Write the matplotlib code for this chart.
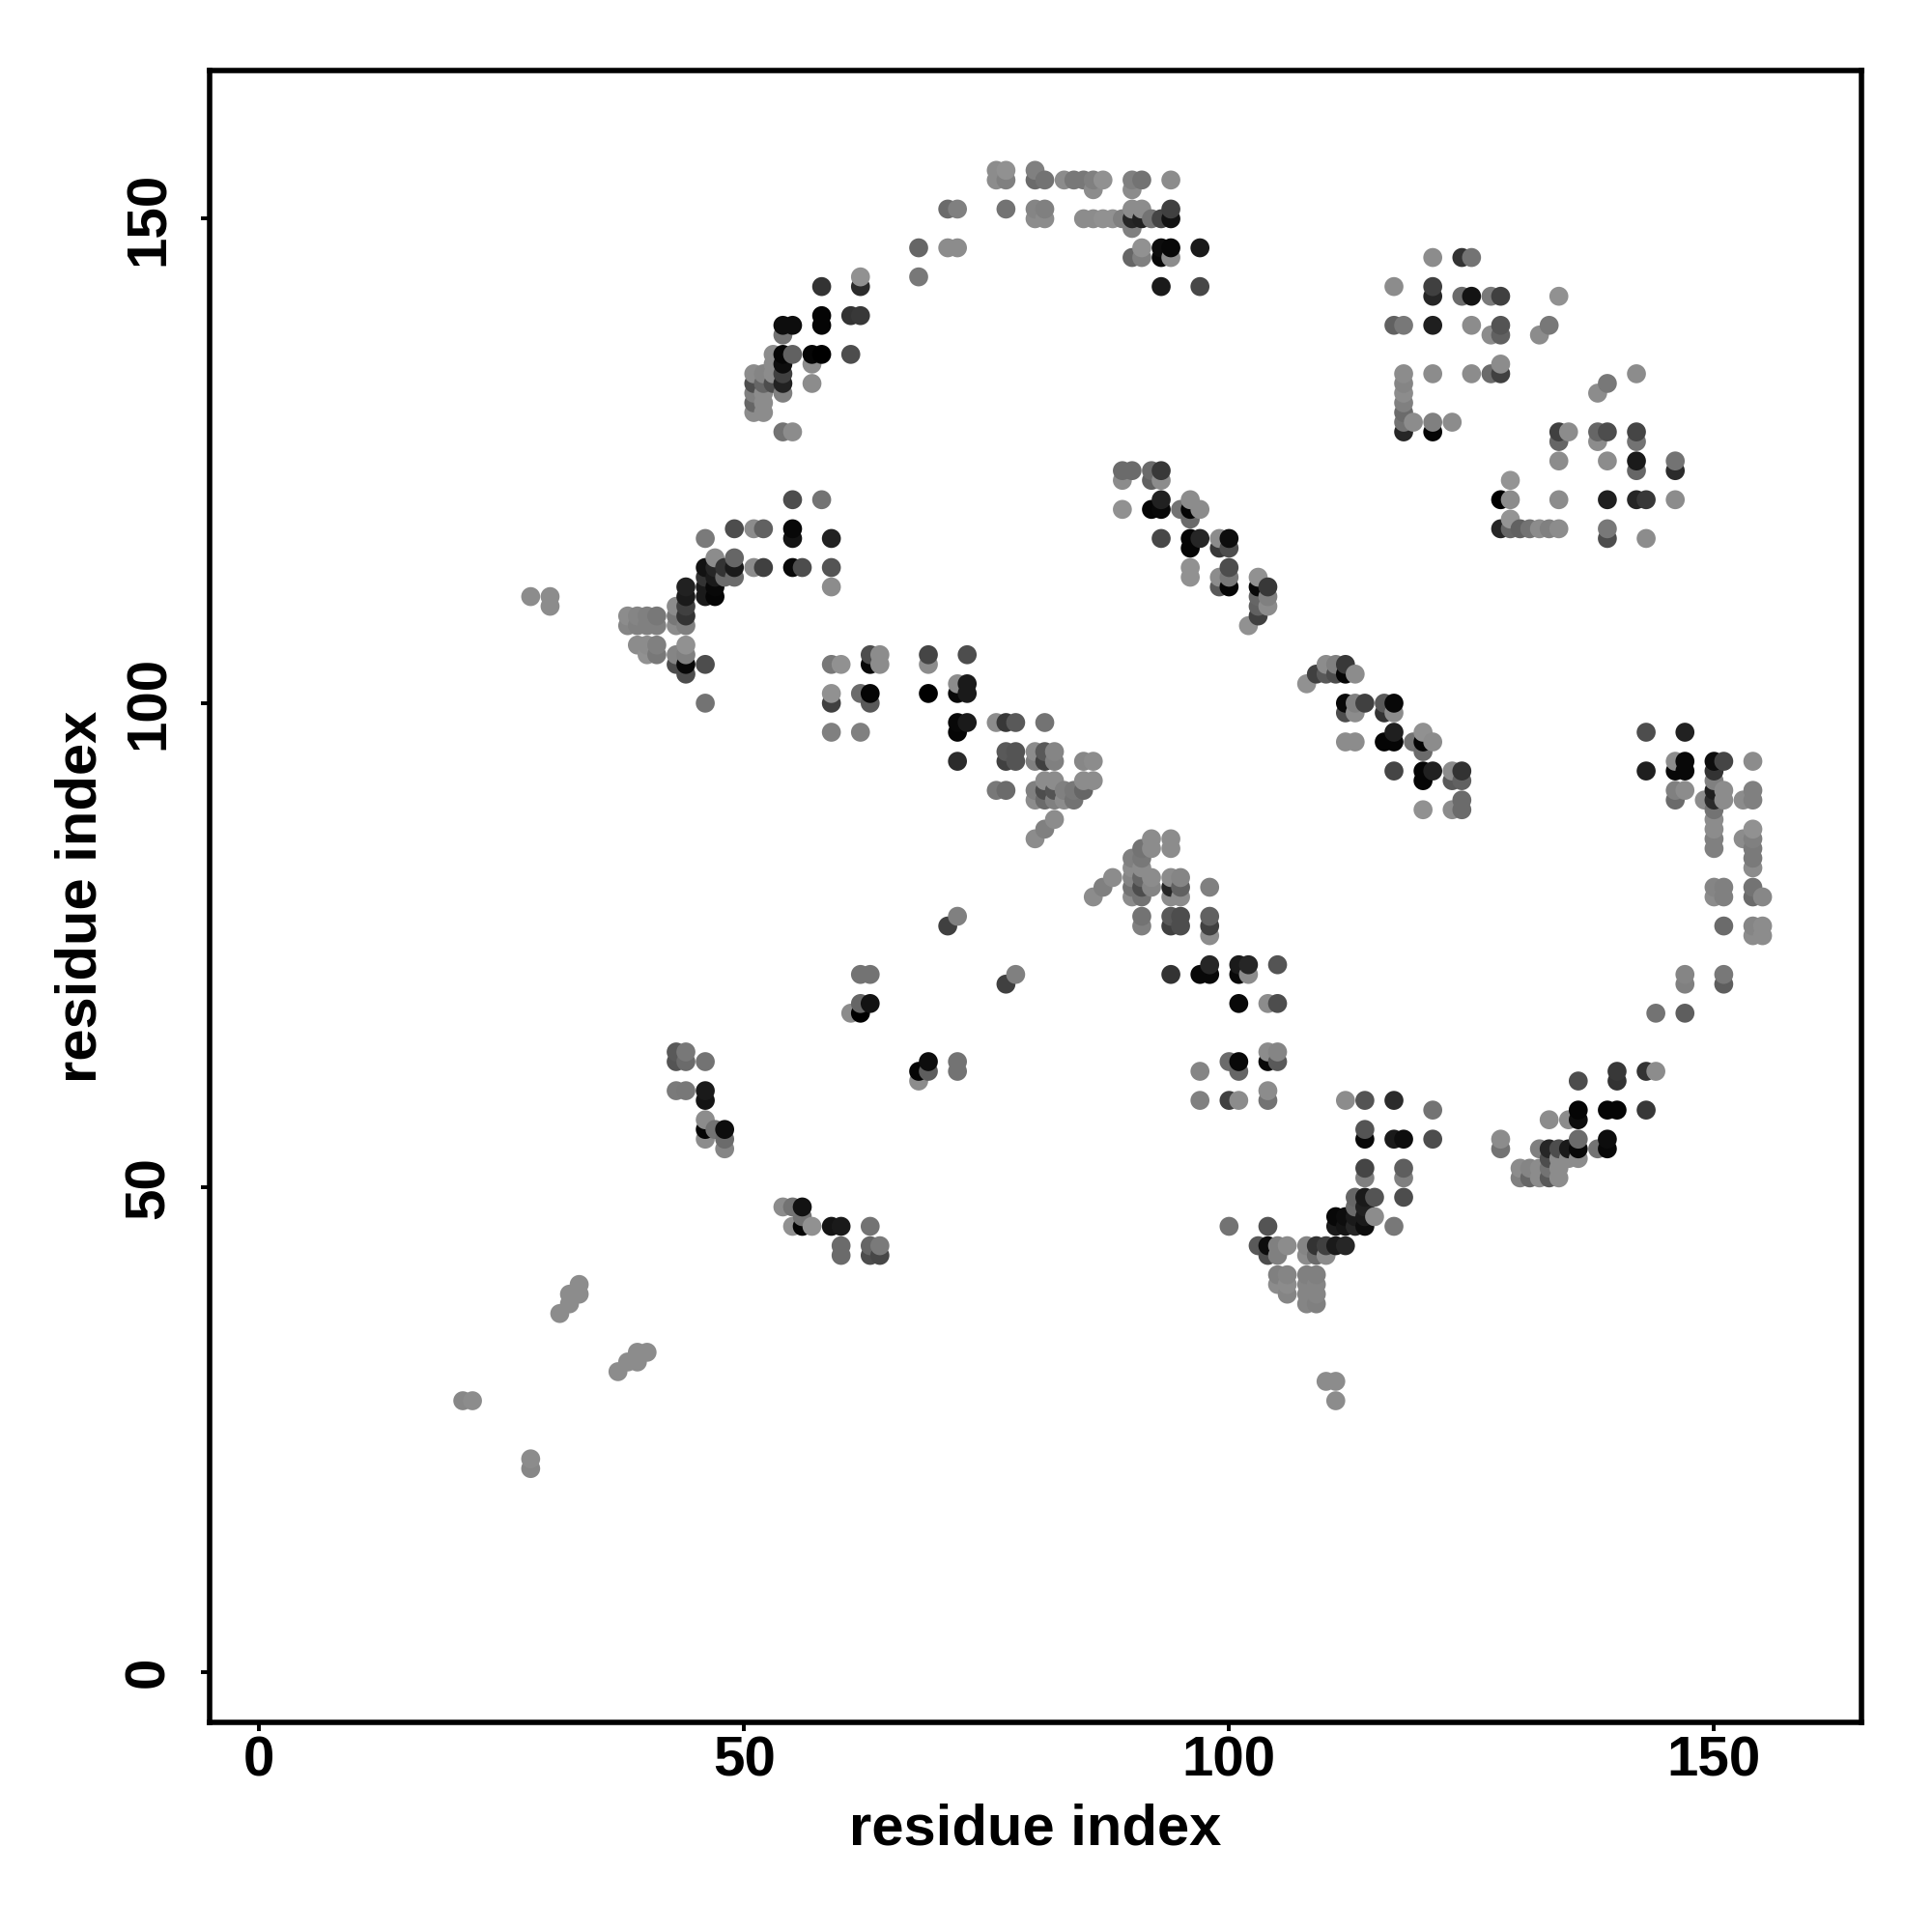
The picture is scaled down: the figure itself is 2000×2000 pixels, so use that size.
import matplotlib
matplotlib.use('Agg')
import matplotlib.pyplot as plt

plt.rcParams['font.family'] = ['Liberation Sans', 'DejaVu Sans']

# contacts as (residue x, residue y, grey level)
arc_top = [
    (76,155,.55),(77,155,.57),(80,155,.5),
    (76,154,.55),(77,154,.5),(80,154,.42),(81,154,.45),(83,154,.55),(84,154,.47),(85,154,.47),(86,154,.5),(87,154,.57),(90,154,.5),(91,154,.45),(94,154,.55),
    (86,153,.55),(90,153,.55),
    (71,151,.42),(72,151,.5),(77,151,.45),(80,151,.52),(81,151,.5),(90,151,.55),(91,151,.55),(94,151,.25),
    (80,150,.55),(81,150,.55),(85,150,.55),(86,150,.55),(87,150,.57),(88,150,.57),(89,150,.5),(90,150,.15),(91,150,.13),(92,150,.45),(93,150,.27),(94,150,.07),
    (90,149,.5),
    (68,147,.4),(71,147,.55),(72,147,.55),(91,147,.57),(93,147,.05),(94,147,.03),(97,147,.1),
    (90,146,.4),(91,146,.5),(93,146,.03),(94,146,.55),
    (62,144,.57),(68,144,.47),
    (58,143,.2),(62,143,.17),(93,143,.1),(97,143,.28),
    (58,140,.02),(61,140,.2),(62,140,.22),
    (54,139,.05),(55,139,.05),(58,139,.02),
    (54,138,.45),
    (53,136,.55),(54,136,.02),(55,136,.38),(57,136,.02),(58,136,.0),(61,136,.3),
    (53,135,.55),(54,135,.05),(57,135,.55),
    (51,134,.55),(52,134,.52),(53,134,.55),(54,134,.25),
    (51,133,.3),(52,133,.4),(53,133,.3),(54,133,.13),(57,133,.55),
    (51,132,.5),(52,132,.55),(54,132,.5),
    (51,131,.4),(52,131,.55),
    (51,130,.55),(52,130,.55),
    (54,128,.45),(55,128,.55),
]

corner_upper_right = [
    (121,146,.55),(124,146,.2),(125,146,.45),
    (117,143,.55),(121,143,.25),
    (121,142,.15),(124,142,.42),(125,142,.08),(127,142,.48),(128,142,.25),(134,142,.57),
    (117,139,.38),(118,139,.47),(121,139,.12),(125,139,.55),(128,139,.33),(133,139,.47),
    (127,138,.55),(128,138,.38),(132,138,.55),
    (128,135,.55),
    (118,134,.55),(121,134,.55),(125,134,.55),(127,134,.42),(128,134,.25),(142,134,.55),
    (118,133,.52),(139,133,.47),
    (118,132,.55),(138,132,.55),
    (118,131,.5),(118,130,.42),
    (118,129,.45),(119,129,.55),(121,129,.5),(123,129,.55),
    (118,128,.15),(121,128,.02),(134,128,.25),(135,128,.55),(138,128,.4),(139,128,.3),(142,128,.27),
    (134,127,.4),(138,127,.55),(142,127,.45),
    (134,125,.55),(139,125,.55),(142,125,.1),(146,125,.45),
    (142,124,.4),(146,124,.17),
    (129,123,.58),
    (128,121,.0),(129,121,.55),(134,121,.55),(139,121,.12),(142,121,.15),(143,121,.22),(146,121,.55),
    (129,119,.58),
    (128,118,.15),(129,118,.4),(130,118,.38),(131,118,.45),(132,118,.55),(133,118,.5),(134,118,.55),(139,118,.47),
    (139,117,.3),(143,117,.55),
]

arc_left = [
    (55,121,.3),(58,121,.45),
    (49,118,.3),(51,118,.55),(52,118,.38),(55,118,.03),
    (46,117,.48),(55,117,.08),(59,117,.13),
    (47,115,.55),(49,115,.4),
    (46,114,.07),(47,114,.15),(48,114,.2),(49,114,.1),(51,114,.55),(52,114,.25),(55,114,.03),(56,114,.3),(59,114,.33),
    (46,113,.2),(47,113,.1),(48,113,.42),(49,113,.42),
    (44,112,.13),(46,112,.1),(47,112,.03),(59,112,.55),
    (44,111,.1),(46,111,.1),(47,111,.02),
    (43,110,.55),(44,110,.25),
    (38,109,.55),(39,109,.52),(40,109,.5),(41,109,.47),(43,109,.47),(44,109,.2),
    (38,108,.52),(39,108,.5),(40,108,.5),(41,108,.5),(43,108,.55),(44,108,.5),
    (39,106,.55),(40,106,.55),(41,106,.5),(44,106,.57),
    (40,105,.57),(41,105,.47),(43,105,.52),(44,105,.5),
    (43,104,.3),(44,104,.03),(46,104,.3),
    (44,103,.3),(46,100,.45),
    (28,111,.55),(30,111,.55),(30,110,.55),
]

diag_middle = [
    (63,105,.3),(64,105,.55),(69,105,.27),(73,105,.3),
    (59,104,.47),(60,104,.57),(63,104,.03),(64,104,.55),(69,104,.55),
    (72,102,.55),(73,102,.1),
    (59,101,.57),(62,101,.42),(63,101,.02),(69,101,.0),(72,101,.03),(73,101,.1),
    (59,100,.25),(63,100,.35),
    (72,98,.03),(73,98,.1),(76,98,.55),(77,98,.22),(78,98,.35),(81,98,.45),
    (59,97,.5),(62,97,.5),(72,97,.02),
    (77,95,.35),(78,95,.33),(80,95,.55),(81,95,.35),(82,95,.52),
    (72,94,.17),(77,94,.25),(78,94,.33),(80,94,.5),(81,94,.25),(82,94,.5),(85,94,.53),(86,94,.55),
    (81,92,.55),(82,92,.55),(85,92,.55),(86,92,.55),
    (76,91,.47),(77,91,.42),(80,91,.5),(81,91,.3),(82,91,.33),(83,91,.5),(84,91,.47),(85,91,.4),
    (80,90,.55),(81,90,.42),(82,90,.5),(83,90,.55),(84,90,.45),
    (82,88,.55),(81,87,.5),(80,86,.55),
]

diag_upper = [
    (89,124,.42),(90,124,.42),(92,124,.42),(93,124,.22),
    (89,123,.55),(92,123,.38),(93,123,.55),
    (93,121,.13),(96,121,.55),
    (89,120,.57),(92,120,.02),(93,120,.03),(95,120,.45),(96,120,.02),(97,120,.55),
    (96,119,.42),
    (93,117,.28),(96,117,.02),(97,117,.15),(99,117,.55),(100,117,.05),
    (96,116,.02),(99,116,.22),(100,116,.3),
    (96,114,.57),(100,114,.3),
    (96,113,.57),(99,113,.55),(100,113,.47),(103,113,.57),
    (99,112,.35),(100,112,.02),(103,112,.03),(104,112,.22),
    (103,111,.4),(104,111,.5),
    (103,110,.38),(104,110,.55),
    (103,109,.25),(102,108,.57),
    (110,104,.55),(111,104,.5),(112,104,.22),
    (109,103,.25),(110,103,.35),(111,103,.3),(112,103,.02),(113,103,.55),
    (108,102,.57),
    (112,100,.03),(113,100,.5),(114,100,.25),(116,100,.35),(117,100,.03),
    (112,99,.3),(113,99,.55),(116,99,.2),(117,99,.55),
    (120,97,.57),
    (112,96,.55),(113,96,.55),(116,96,.02),(117,96,.02),(119,96,.45),(120,96,.02),(121,96,.55),
    (117,97,.12),(120,95,.42),
    (117,93,.27),(120,93,.02),(121,93,.13),(123,93,.55),(124,93,.2),
    (120,92,.02),(123,92,.35),(124,92,.38),
    (124,90,.42),(120,89,.57),(123,89,.55),(124,89,.42),
]

arc_right = [
    (143,97,.3),(147,97,.13),
    (146,94,.55),(147,94,.03),(150,94,.05),(151,94,.27),(154,94,.55),
    (143,93,.12),(146,93,.03),(147,93,.03),(150,93,.2),
    (150,92,.5),
    (146,91,.5),(147,91,.55),(150,91,.12),(151,91,.55),(154,91,.5),
    (146,90,.42),(149,90,.55),(150,90,.17),(151,90,.55),(153,90,.55),(154,90,.5),
    (150,89,.45),(150,88,.55),
    (150,87,.55),(154,87,.57),
    (150,86,.5),(153,86,.55),(154,86,.5),
    (150,85,.5),(154,85,.48),(154,84,.48),(154,83,.55),
    (150,81,.52),(151,81,.5),(154,81,.45),
    (150,80,.55),(151,80,.5),(154,80,.42),(155,80,.53),
    (151,77,.42),(154,77,.52),(155,77,.55),
    (154,76,.55),(155,76,.55),
    (147,72,.52),(151,72,.47),
    (147,71,.5),(151,71,.37),
    (144,68,.45),(147,68,.37),
]

diag_lower = [
    (72,78,.5),(71,77,.25),(78,72,.5),(77,71,.25),
    (62,72,.45),(63,72,.45),
    (62,69,.4),(63,69,.07),(61,68,.55),(62,68,.0),
    (69,63,.05),(68,62,.02),(69,62,.37),(72,63,.45),(72,62,.45),(68,61,.55),
    (92,86,.55),(94,86,.55),
    (91,85,.45),(92,85,.55),(94,85,.55),
    (90,84,.5),(91,84,.47),
    (90,83,.55),(91,83,.55),
    (88,82,.55),(90,82,.52),(91,82,.4),(92,82,.55),(94,82,.55),(95,82,.52),
    (87,81,.5),(90,81,.45),(91,81,.3),(92,81,.52),(94,81,.15),(95,81,.38),(98,81,.5),
    (86,80,.55),(90,80,.55),(91,80,.45),(94,80,.55),(95,80,.55),
    (91,78,.45),(94,78,.35),(95,78,.3),(98,78,.38),
    (91,77,.5),(94,77,.25),(95,77,.3),(98,77,.25),
    (98,76,.55),
    (98,73,.15),(101,73,.1),(102,73,.15),(105,73,.33),
    (94,72,.2),(97,72,.03),(98,72,.03),(101,72,.03),(102,72,.55),
    (101,69,.03),(104,69,.55),(105,69,.3),
    (104,64,.55),(105,64,.52),
    (100,63,.42),(101,63,.03),(104,63,.03),(105,63,.35),
    (97,62,.52),(101,62,.4),
    (104,60,.55),
    (97,59,.5),(100,59,.25),(101,59,.55),(104,59,.45),
]

hook_bottom = [
    (112,59,.55),(114,59,.33),(117,59,.17),(121,58,.45),
    (114,56,.33),
    (114,55,.03),(117,55,.1),(118,55,.05),(121,55,.3),
    (114,52,.27),(118,52,.37),
    (114,51,.5),(118,51,.5),
    (113,49,.4),(114,49,.1),(115,49,.33),(118,49,.3),
    (113,48,.42),(114,48,.13),
    (111,47,.03),(112,47,.05),(113,47,.1),(114,47,.1),(115,47,.55),
    (100,46,.45),(104,46,.33),(111,46,.1),(112,46,.08),(113,46,.15),(114,46,.05),(117,46,.47),
    (103,44,.35),(104,44,.05),(105,44,.5),(106,44,.55),(108,44,.52),(109,44,.2),(110,44,.25),(111,44,.1),(112,44,.15),
    (104,43,.3),(105,43,.5),(108,43,.55),(109,43,.42),(110,43,.55),
    (105,41,.5),(106,41,.52),(108,41,.5),(109,41,.5),
    (105,40,.55),(106,40,.55),(108,40,.52),(109,40,.52),
    (106,39,.52),(108,39,.52),(109,39,.52),
    (108,38,.52),(109,38,.5),
    (110,30,.55),(111,30,.55),(111,28,.55),
]

arc_bottom_right = [
    (140,62,.22),(143,62,.2),(144,62,.55),
    (136,61,.3),(140,61,.2),
    (136,58,.02),(139,58,.02),(140,58,.02),(143,58,.22),
    (133,57,.55),(135,57,.55),(136,57,.05),
    (128,55,.55),(136,55,.42),(139,55,.05),
    (128,54,.45),(132,54,.5),(133,54,.15),(134,54,.3),(135,54,.1),(136,54,.03),(138,54,.45),(139,54,.03),
    (133,53,.3),(134,53,.55),(135,53,.55),(136,53,.55),
    (130,52,.55),(131,52,.52),(132,52,.55),(133,52,.45),(134,52,.55),
    (130,51,.5),(131,51,.4),(132,51,.55),(133,51,.35),(134,51,.55),
]

lower_left = [
    (43,64,.35),(44,64,.47),
    (43,63,.33),(44,63,.42),(46,63,.45),
    (43,60,.48),(44,60,.47),(46,60,.1),
    (46,59,.08),(46,57,.55),
    (46,56,.02),(47,56,.45),(48,56,.05),
    (46,55,.55),(48,55,.42),(48,54,.52),
    (54,48,.55),(55,48,.45),(56,48,.07),
    (56,47,.45),
    (55,46,.57),(56,46,.02),(57,46,.57),(59,46,.08),(60,46,.1),(63,46,.45),
    (60,44,.42),(63,44,.4),(64,44,.48),
    (60,43,.42),(63,43,.3),(64,43,.28),
    (21,28,.53),(22,28,.55),(28,22,.55),(28,21,.53),
    (31,37,.55),(32,39,.55),(32,38,.55),(33,40,.55),(33,39,.55),
    (37,31,.55),(38,32,.55),(39,33,.55),(39,32,.55),(40,33,.55),
]

ticks = [0, 50, 100, 150]

contacts = (arc_top + corner_upper_right + arc_left + diag_middle + diag_upper
            + arc_right + diag_lower + hook_bottom + arc_bottom_right + lower_left)
# later columns and higher rows sit on top in the original
contacts = sorted(contacts, key=lambda c: (c[0], c[1]))

fig = plt.figure(figsize=(10, 10), dpi=200)
ax = fig.add_axes([217 / 2000, 1 - 1783 / 2000, 1710 / 2000, 1710 / 2000])

ax.scatter([c[0] for c in contacts], [c[1] for c in contacts],
           c=[str(c[2]) for c in contacts], s=50, linewidths=0, clip_on=False)

ax.set_xlim(-5.1, 165.2)
ax.set_ylim(-5.2, 165.3)
ax.set_xticks(ticks)
ax.set_yticks(ticks)
ax.set_xticklabels(ticks, fontsize=21, fontweight='bold')
ax.set_yticklabels(ticks, fontsize=21, fontweight='bold', rotation=90, va='center')
ax.tick_params(length=3.2, width=1.4)
ax.tick_params(axis='x', pad=1.5)
ax.tick_params(axis='y', pad=9.5)
ax.set_xlabel('residue index', fontsize=21.5, fontweight='bold', labelpad=6)
ax.set_ylabel('residue index', fontsize=21.5, fontweight='bold', labelpad=6)
for side in ax.spines.values():
    side.set_linewidth(2.0)

fig.savefig('out.png', dpi=200)
